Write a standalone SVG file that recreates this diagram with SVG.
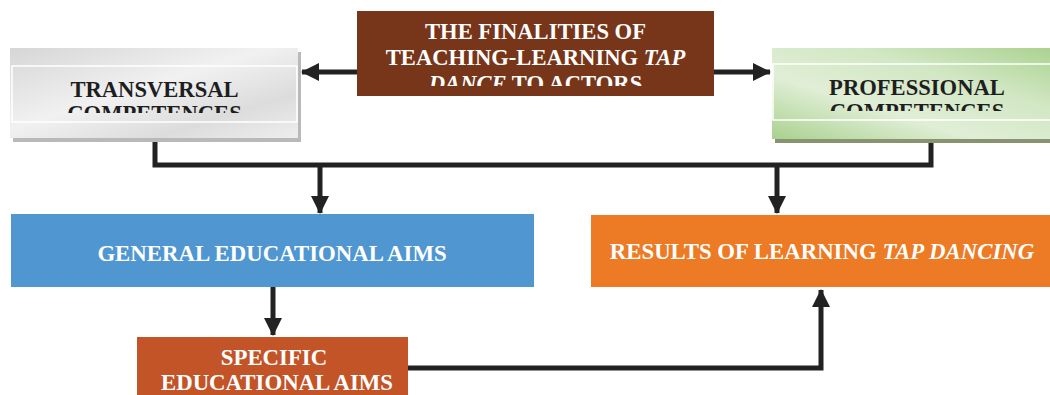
<svg xmlns="http://www.w3.org/2000/svg" width="1050" height="395" viewBox="0 0 1050 395">
  <style>
    .lbl { font-family: "Liberation Serif", "Times New Roman", serif; font-weight: bold; font-size: 22.6px; text-anchor: middle; }
    .big { font-size: 22.8px; }
    .dark { fill: #1e1e1e; }
    .light { fill: #ffffff; }
    .conn { fill: none; stroke: #222222; stroke-width: 5; stroke-linejoin: miter; }
    .frame { fill: none; stroke: #ffffff; stroke-width: 1.5; }
  </style>
  <defs>
    <marker id="arrow" viewBox="0 0 18 18" refX="17" refY="9" markerWidth="18" markerHeight="18" markerUnits="userSpaceOnUse" orient="auto">
      <path d="M0,0 L18,9 L0,18 Z" fill="#222222"/>
    </marker>
    <linearGradient id="grayFill" x1="0" y1="0" x2="1" y2="1">
      <stop offset="0" stop-color="#d6d6d6"/>
      <stop offset="0.45" stop-color="#f1f1f1"/>
      <stop offset="0.75" stop-color="#dcdcdc"/>
      <stop offset="1" stop-color="#eeeeee"/>
    </linearGradient>
    <linearGradient id="greenFill" x1="0" y1="1" x2="1" y2="0">
      <stop offset="0" stop-color="#a9d18e"/>
      <stop offset="0.35" stop-color="#e0eed6"/>
      <stop offset="0.65" stop-color="#d2e7c4"/>
      <stop offset="1" stop-color="#a9d18e"/>
    </linearGradient>
    <clipPath id="clipTrans"><rect x="12" y="66" width="285" height="47"/></clipPath>
    <clipPath id="clipProf"><rect x="773" y="64" width="290" height="47"/></clipPath>
    <clipPath id="clipFinal"><rect x="357" y="11" width="357" height="75"/></clipPath>
  </defs>

  <!-- connectors -->
  <g id="connectors">
    <line class="conn" x1="357" y1="72" x2="302" y2="72" marker-end="url(#arrow)"/>
    <line class="conn" x1="714" y1="72" x2="770" y2="72" marker-end="url(#arrow)"/>
    <polyline class="conn" points="155,140 155,165 931,165 931,140"/>
    <line class="conn" x1="320" y1="165" x2="320" y2="213" marker-end="url(#arrow)"/>
    <line class="conn" x1="777" y1="165" x2="777" y2="213" marker-end="url(#arrow)"/>
    <line class="conn" x1="273" y1="287" x2="273" y2="335" marker-end="url(#arrow)"/>
    <polyline class="conn" points="408,368 821,368 821,290" marker-end="url(#arrow)"/>
  </g>

  <!-- central topic -->
  <g id="finalities">
    <rect x="357" y="11" width="357" height="85" fill="#77351a"/>
    <g clip-path="url(#clipFinal)">
      <text class="lbl light" x="535.5" y="39">THE FINALITIES OF</text>
      <text class="lbl light" x="535.5" y="65">TEACHING-LEARNING <tspan font-style="italic">TAP</tspan></text>
      <text class="lbl light" x="535.5" y="91"><tspan font-style="italic">DANCE</tspan> TO ACTORS</text>
    </g>
  </g>

  <!-- transversal competences -->
  <g id="transversal">
    <rect x="13" y="52" width="288" height="90" fill="#b9b9b9"/>
    <rect x="10" y="48" width="288" height="90" fill="url(#grayFill)"/>
    <rect class="frame" x="12" y="66" width="285" height="56"/>
    <g clip-path="url(#clipTrans)">
      <text class="lbl dark" x="154.5" y="97">TRANSVERSAL</text>
      <text class="lbl dark" x="154.5" y="121">COMPETENCES</text>
    </g>
  </g>

  <!-- professional competences -->
  <g id="professional">
    <rect x="775" y="52" width="290" height="91" fill="#87946f"/>
    <rect x="772" y="48" width="290" height="91" fill="url(#greenFill)"/>
    <rect class="frame" x="773" y="64" width="290" height="56"/>
    <g clip-path="url(#clipProf)">
      <text class="lbl dark" x="917" y="95">PROFESSIONAL</text>
      <text class="lbl dark" x="917" y="119">COMPETENCES</text>
    </g>
  </g>

  <!-- general educational aims -->
  <g id="general">
    <rect x="11" y="214" width="523" height="73" fill="#5097d2"/>
    <text class="lbl big light" x="272" y="261">GENERAL EDUCATIONAL AIMS</text>
  </g>

  <!-- results of learning -->
  <g id="results">
    <rect x="591" y="215" width="465" height="72" fill="#ed7a24"/>
    <text class="lbl big light" x="822" y="259">RESULTS OF LEARNING <tspan font-style="italic">TAP DANCING</tspan></text>
  </g>

  <!-- specific educational aims -->
  <g id="specific">
    <rect x="137" y="337" width="271" height="62" fill="#c25428"/>
    <text class="lbl big light" x="274" y="365">SPECIFIC</text>
    <text class="lbl big light" x="277" y="390">EDUCATIONAL AIMS</text>
  </g>
</svg>
